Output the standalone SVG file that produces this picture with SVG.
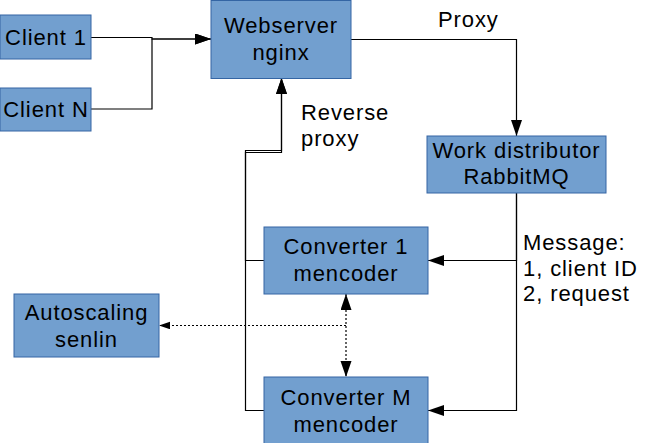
<svg xmlns="http://www.w3.org/2000/svg" width="653" height="443" viewBox="0 0 653 443">
<defs>
<style>
.box{fill:#729fcf;stroke:#3465a4;stroke-width:1}
.t{font-family:"Liberation Sans",Arial,sans-serif;font-size:22px;letter-spacing:0.9px;fill:#000}
.c{text-anchor:middle}
.ln{fill:none;stroke:#000;stroke-width:1.2}
.dot{fill:none;stroke:#000;stroke-width:1.2;stroke-dasharray:2,2}
</style>
<marker id="ah" markerUnits="userSpaceOnUse" markerWidth="16" markerHeight="12" refX="16" refY="5.5" orient="auto-start-reverse">
<path d="M0,0 L16,5.5 L0,11 z" fill="#000"/>
</marker>
<marker id="as" markerUnits="userSpaceOnUse" markerWidth="11" markerHeight="8" refX="11" refY="3.75" orient="auto">
<path d="M0,0 L11,3.75 L0,7.5 z" fill="#000"/>
</marker>
</defs>
<rect width="653" height="443" fill="#fff"/>
<g id="connectors">
<path class="ln" d="M91,37.5 H152 V39 H211" marker-end="url(#ah)"/>
<path class="ln" d="M91,109 H152 V39 H211" marker-end="url(#ah)"/>
<path class="ln" d="M351,39.5 H516.5 V136" marker-end="url(#ah)"/>
<path class="ln" d="M516.5,193 V260.5 H428" marker-end="url(#ah)"/>
<path class="ln" d="M516.5,193 V410.5 H428" marker-end="url(#ah)"/>
<path class="ln" d="M264,260.5 H245.5 V152.5 H281.5 V78" marker-end="url(#ah)"/>
<path class="ln" d="M264,410.5 H245.5 V150.5 H281.5 V78" marker-end="url(#ah)"/>
<path class="dot" d="M346,294 V377" marker-start="url(#ah)" marker-end="url(#ah)"/>
<path class="dot" d="M346,325.5 H159" marker-end="url(#as)"/>
</g>
<g id="labels">
<text class="t" x="438" y="26.5">Proxy</text>
<text class="t" x="301" y="120">Reverse</text>
<text class="t" x="301" y="146">proxy</text>
<text class="t" x="523" y="250">Message:</text>
<text class="t" x="523" y="276">1, client ID</text>
<text class="t" x="523" y="301">2, request</text>
</g>
<g id="client1">
<rect class="box" x="0" y="15" width="91" height="44"/>
<text class="t c" x="46" y="44.5">Client 1</text>
</g>
<g id="clientN">
<rect class="box" x="0" y="88" width="91" height="43"/>
<text class="t c" x="46" y="117">Client N</text>
</g>
<g id="webserver">
<rect class="box" x="211" y="0.5" width="140" height="78"/>
<text class="t c" x="281" y="33">Webserver</text>
<text class="t c" x="281" y="60">nginx</text>
</g>
<g id="workdistributor">
<rect class="box" x="427" y="136" width="179" height="57"/>
<text class="t c" x="516.5" y="158">Work distributor</text>
<text class="t c" x="516.5" y="184">RabbitMQ</text>
</g>
<g id="converter1">
<rect class="box" x="264" y="227" width="164" height="67"/>
<text class="t c" x="346" y="254">Converter 1</text>
<text class="t c" x="346" y="281">mencoder</text>
</g>
<g id="converterM">
<rect class="box" x="264" y="377" width="164" height="67"/>
<text class="t c" x="346" y="405">Converter M</text>
<text class="t c" x="346" y="432">mencoder</text>
</g>
<g id="autoscaling">
<rect class="box" x="14" y="294" width="145" height="63"/>
<text class="t c" x="86.5" y="320">Autoscaling</text>
<text class="t c" x="86.5" y="347">senlin</text>
</g>
</svg>
